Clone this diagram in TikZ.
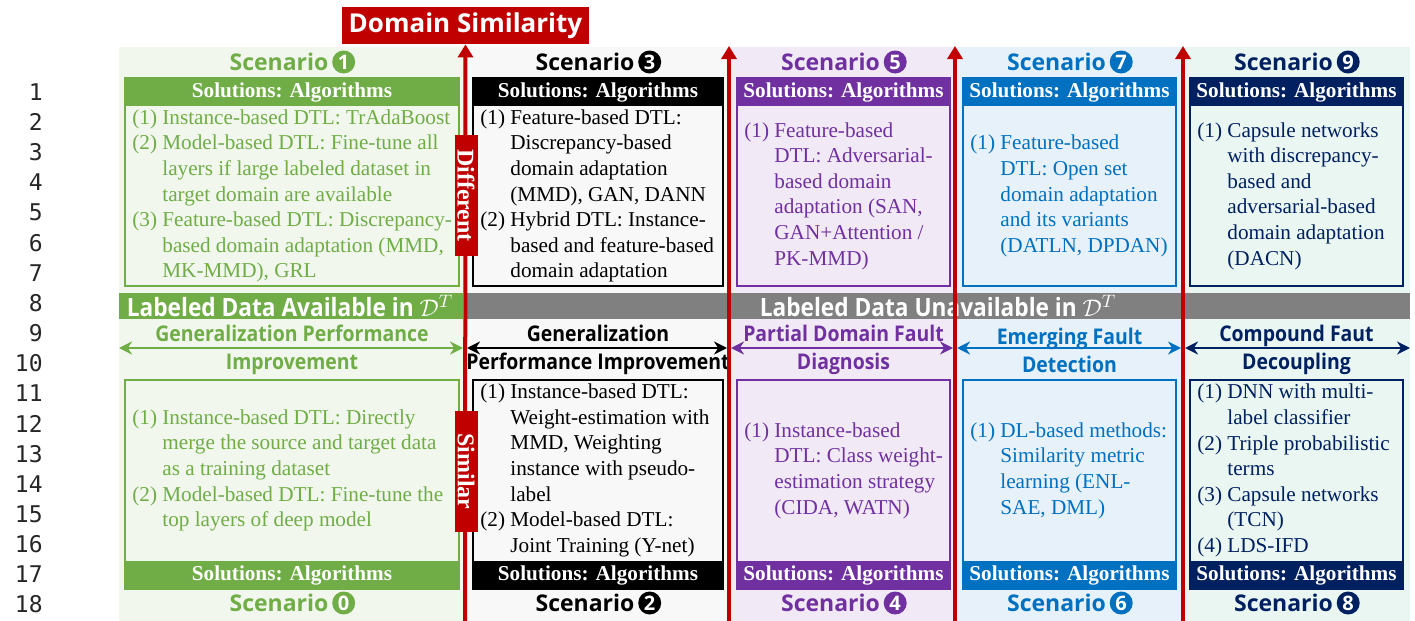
\documentclass[tikz,border=0pt]{standalone}
\usepackage{fontspec}
\setmainfont{Liberation Serif}
\newfontfamily\osans{Open Sans}
\newfontfamily\osanscond{Open Sans}[FakeStretch=0.9]
\newfontfamily\lnmono{DejaVu Sans Mono}
\usetikzlibrary{arrows.meta,positioning}

\definecolor{cgreen}{HTML}{70AD47}
\definecolor{cpurple}{HTML}{7030A0}
\definecolor{cblue}{HTML}{0070C0}
\definecolor{cnavy}{HTML}{002060}
\definecolor{cred}{HTML}{C00000}
\definecolor{cgray}{HTML}{808080}
\definecolor{bggreen}{HTML}{F1F7EC}
\definecolor{bgblack}{HTML}{F8F8F8}
\definecolor{bgpurple}{HTML}{F1EAF6}
\definecolor{bgblue}{HTML}{E7F1F9}
\definecolor{bgnavy}{HTML}{EAF6F2}

\newlength{\itmind}\setlength{\itmind}{15pt}
\newcommand{\itm}[1]{\makebox[\itmind][l]{(#1)}}
\newcommand{\ind}{\hspace*{\itmind}}

\tikzset{
  scen/.style={font=\osans\bfseries\fontsize{11.5}{13}\selectfont, inner sep=0pt},
  scnum/.style={circle, inner sep=0pt, minimum size=11.5pt, text=white, font=\osans\bfseries\fontsize{10}{10}\selectfont},
  solhead/.style={inner sep=0pt, text=white, font=\bfseries\fontsize{10.6}{12}\selectfont},
  soltext/.style={align=left, inner sep=0pt, anchor=west, font=\fontsize{10.6}{12.8}\selectfont},
  cat/.style={align=center, inner sep=0pt, font=\osanscond\bfseries\fontsize{10.8}{14}\selectfont},
  band/.style={inner sep=0pt, text=white, font=\osanscond\bfseries\fontsize{12.6}{14}\selectfont},
  simarrow/.style={cred, line width=2pt, -{Triangle[width=7.5pt,length=6.5pt]}},
  catarrow/.style={line width=1.4pt, {Stealth[width=6.5pt,length=6.5pt]}-{Stealth[width=6.5pt,length=6.5pt]}},
  redtag/.style={fill=cred, text=white, rotate=-90, inner sep=0pt, minimum width=60.5pt, minimum height=11.5pt, font=\bfseries\fontsize{12}{12}\selectfont},
  lnum/.style={anchor=east, inner sep=0pt, text=black!85, font=\lnmono\fontsize{11.5}{12}\selectfont}
}

\begin{document}
\begin{tikzpicture}[x=0.5pt,y=-0.5pt]
\useasboundingbox (0,0) rectangle (1415,621);
% line numbers on the left
\foreach \k in {1,...,18}
  \node[lnum] (ln\k) at (43,{92+(\k-1)*30.15}) {\k};

% column backgrounds, solution boxes and scenario labels
\foreach \bl/\br/\l/\r/\c/\bgc/\tn/\bn/\i in {119/465/125/459/cgreen/bggreen/1/0/0,
    465/729/473/723/black/bgblack/3/2/1,
    729/955/737/950/cpurple/bgpurple/5/4/2,
    955/1183/963/1176/cblue/bgblue/7/6/3,
    1183/1410/1190/1403/cnavy/bgnavy/9/8/4}{
  \fill[\bgc] (\bl,47) rectangle (\br,621);
  % top box
  \fill[\c] (\l,78) rectangle (\r,106);
  \draw[\c, line width=0.7pt] (\l,78) rectangle (\r,286);
  \node[solhead] (toph\i) at ({(\l+\r)/2},92) {Solutions: Algorithms};
  \node[scen, text=\c] (topsc\i) at ({(\l+\r)/2-13},62) {Scenario};
  \node[scnum, fill=\c, right=1.5pt of topsc\i] (topn\i) {\tn};
  % bottom box
  \fill[\c] (\l,561) rectangle (\r,589);
  \draw[\c, line width=0.7pt] (\l,380) rectangle (\r,589);
  \node[solhead] (both\i) at ({(\l+\r)/2},575) {Solutions: Algorithms};
  \node[scen, text=\c] (botsc\i) at ({(\l+\r)/2-13},603) {Scenario};
  \node[scnum, fill=\c, right=1.5pt of botsc\i] (botn\i) {\bn};
}

% bands in the middle
\fill[cgreen] (119,293) rectangle (463,319);
\fill[cgray] (467,293) rectangle (1410,319);
\node[band] (avail) at (290,306) {Labeled Data Available in $\mathcal{D}^T$};
\node[band] (unavail) at (938,306) {Labeled Data Unavailable in $\mathcal{D}^T$};

% task labels with double arrows
\foreach \al/\ar/\c/\i in {119/463/cgreen/0, 467/727/black/1, 731/953/cpurple/2, 957/1181/cblue/3, 1185/1410/cnavy/4}{
  \coordinate (tl\i) at (\al,348);
  \coordinate (tr\i) at (\ar,348);
  \draw[catarrow, \c] (tl\i) -- (tr\i);
}
\node[cat, text=cgreen] (task0) at (292,350) {Generalization Performance\\Improvement};
\node[cat, text=black] (task1) at (598,350) {Generalization\\Performance Improvement};
\node[cat, text=cpurple] (task2) at (843.5,350) {Partial Domain Fault\\Diagnosis};
\node[cat, text=cblue] (task3) at (1069.5,350) {Emerging Fault\\Detection};
\node[cat, text=cnavy] (task4) at (1296.5,350) {Compound Faut\\Decoupling};

% solutions, top row
\node[soltext, text=cgreen] (txt1) at (132,196) {\itm{1}Instance-based DTL: TrAdaBoost\\
  \itm{2}Model-based DTL: Fine-tune all\\
  \ind layers if large labeled dataset in\\
  \ind target domain are available\\
  \itm{3}Feature-based DTL: Discrepancy-\\
  \ind based domain adaptation (MMD,\\
  \ind MK-MMD), GRL};
\node[soltext, text=black] (txt3) at (480,196) {\itm{1}Feature-based DTL:\\
  \ind Discrepancy-based\\
  \ind domain adaptation\\
  \ind (MMD), GAN, DANN\\
  \itm{2}Hybrid DTL: Instance-\\
  \ind based and feature-based\\
  \ind domain adaptation};
\node[soltext, text=cpurple] (txt5) at (744,196) {\itm{1}Feature-based\\
  \ind DTL: Adversarial-\\
  \ind based domain\\
  \ind adaptation (SAN,\\
  \ind GAN+Attention /\\
  \ind PK-MMD)};
\node[soltext, text=cblue] (txt7) at (970,196) {\itm{1}Feature-based\\
  \ind DTL: Open set\\
  \ind domain adaptation\\
  \ind and its variants\\
  \ind (DATLN, DPDAN)};
\node[soltext, text=cnavy] (txt9) at (1197,196) {\itm{1}Capsule networks\\
  \ind with discrepancy-\\
  \ind based and\\
  \ind adversarial-based\\
  \ind domain adaptation\\
  \ind (DACN)};

% solutions, bottom row
\node[soltext, text=cgreen] (txt0) at (132,470.5) {\itm{1}Instance-based DTL: Directly\\
  \ind merge the source and target data\\
  \ind as a training dataset\\
  \itm{2}Model-based DTL: Fine-tune the\\
  \ind top layers of deep model};
\node[soltext, text=black] (txt2) at (480,470.5) {\itm{1}Instance-based DTL:\\
  \ind Weight-estimation with\\
  \ind MMD, Weighting\\
  \ind instance with pseudo-\\
  \ind label\\
  \itm{2}Model-based DTL:\\
  \ind Joint Training (Y-net)};
\node[soltext, text=cpurple] (txt4) at (744,470.5) {\itm{1}Instance-based\\
  \ind DTL: Class weight-\\
  \ind estimation strategy\\
  \ind (CIDA, WATN)};
\node[soltext, text=cblue] (txt6) at (970,470.5) {\itm{1}DL-based methods:\\
  \ind Similarity metric\\
  \ind learning (ENL-\\
  \ind SAE, DML)};
\node[soltext, text=cnavy] (txt8) at (1197,470.5) {\itm{1}DNN with multi-\\
  \ind label classifier\\
  \itm{2}Triple probabilistic\\
  \ind terms\\
  \itm{3}Capsule networks\\
  \ind (TCN)\\
  \itm{4}LDS-IFD};

% domain similarity axis
\node[fill=cred, text=white, inner sep=0pt, minimum width=123.5pt, minimum height=18.5pt,
  font=\osans\bfseries\fontsize{13}{14}\selectfont] (dsim) at (465.5,25.5) {Domain Similarity};
\coordinate (rb0) at (465,621);
\draw[simarrow] (rb0) -- (dsim.south);
\foreach \x/\i in {729/1, 955/2, 1183/3}{
  \coordinate (rb\i) at (\x,621);
  \coordinate (rt\i) at (\x,46);
  \draw[simarrow] (rb\i) -- (rt\i);
}
\node[redtag] (diff) at (466,195.5) {Different};
\node[redtag] (simi) at (466,471.5) {Similar};
\end{tikzpicture}
\end{document}
